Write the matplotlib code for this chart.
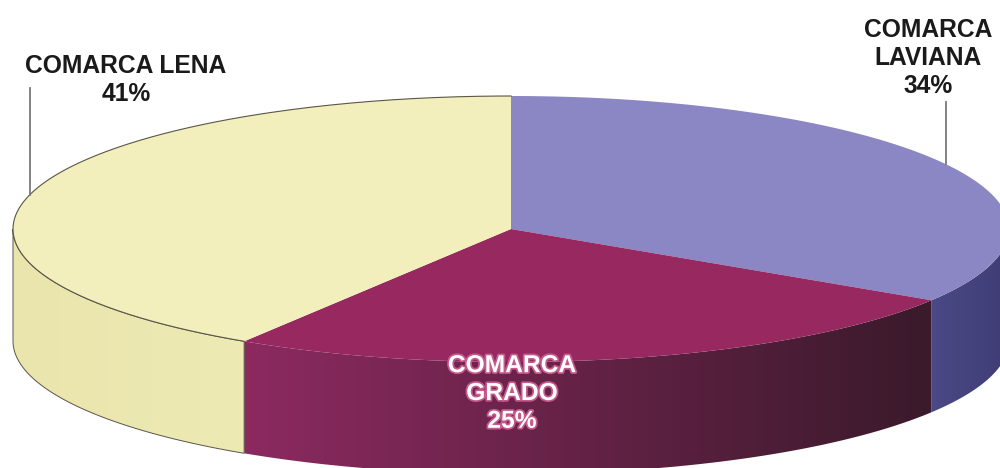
import numpy as np
import matplotlib
matplotlib.use("Agg")
import matplotlib.pyplot as plt
from matplotlib.patches import Polygon
from matplotlib.colors import to_rgb
import matplotlib.patheffects as pe

# Share of each comarca (drawn clockwise from 12 o'clock)
names = ["COMARCA\nLAVIANA", "COMARCA\nGRADO", "COMARCA LENA"]
shares = [34, 25, 41]

top_colors = ["#8B87C4", "#982960", "#F3EFBC"]
side_left_colors = ["#4B4986", "#8C2A60", "#E9E5AC"]
side_right_colors = ["#3F3C74", "#3A1A2B", "#EEEAB4"]

# Geometry of the disc in pixel space
cx, cy = 511, 229
rx, ry = 498, 133
depth = 112

fig = plt.figure(figsize=(10, 4.68), dpi=100)
ax = fig.add_axes([0, 0, 1, 1])
ax.set_xlim(0, 1000)
ax.set_ylim(468, 0)
ax.axis("off")


def rim(theta, dy=0.0):
    t = np.radians(theta)
    return cx + rx * np.cos(t), cy - ry * np.sin(t) + dy


def gradient_fill(poly, c_left, c_right, x0, x1, zorder):
    xs = np.linspace(0, 1, 256)
    cl, cr = np.array(to_rgb(c_left)), np.array(to_rgb(c_right))
    img = (cl[None, :] * (1 - xs[:, None]) + cr[None, :] * xs[:, None])[None, :, :]
    ymin, ymax = poly[:, 1].min(), poly[:, 1].max()
    im = ax.imshow(img, extent=(x0, x1, ymax, ymin), aspect="auto",
                   interpolation="bilinear", zorder=zorder)
    patch = Polygon(poly, closed=True, facecolor="none", edgecolor="none")
    ax.add_patch(patch)
    im.set_clip_path(patch)


bounds = 90 - np.concatenate([[0], np.cumsum(shares)]) * 3.6

# Outer wall (only the front half of the cylinder is visible)
for i, (hi, lo) in enumerate(zip(bounds[:-1], bounds[1:])):
    for shift in (-360, 0, 360):
        a0 = max(lo + shift, -180)
        a1 = min(hi + shift, 0)
        if a1 <= a0:
            continue
        th = np.linspace(a0, a1, 200)
        tx, ty = rim(th)
        bx, by = rim(th[::-1], depth)
        poly = np.column_stack([np.r_[tx, bx], np.r_[ty, by]])
        gradient_fill(poly, side_left_colors[i], side_right_colors[i],
                      poly[:, 0].min(), poly[:, 0].max() + 1, 1)
        ax.add_patch(Polygon(poly, closed=True, facecolor="none",
                             edgecolor="#5a5648" if i == 2 else "none",
                             lw=0.7, zorder=2))

# Top face
for i, (hi, lo) in enumerate(zip(bounds[:-1], bounds[1:])):
    th = np.linspace(hi, lo, 300)
    tx, ty = rim(th)
    poly = np.column_stack([np.r_[cx, tx], np.r_[cy, ty]])
    ax.add_patch(Polygon(poly, closed=True, facecolor=top_colors[i],
                         edgecolor="none", zorder=3))
    if i == 2:
        ax.plot(tx, ty, color="#5a5648", lw=0.8, zorder=4)

# Labels
label_font = dict(family=["Liberation Sans", "DejaVu Sans"], weight="bold",
                  fontsize=17.7, ha="center", va="center", linespacing=1.2)

ax.text(126, 80, f"{names[2]}\n{shares[2]}%", color="#1a1a1a", zorder=6,
        **label_font)
ax.text(928, 58, f"{names[0]}\n{shares[0]}%", color="#1a1a1a", zorder=6,
        **label_font)
ax.text(512, 393, f"{names[1]}\n{shares[1]}%", color="#FFFFFF", zorder=6,
        path_effects=[pe.withStroke(linewidth=2.5, foreground="#C45A8C")],
        **label_font)

# Leader lines
for lx, ly in ((30, 88), (946, 102)):
    ey = cy - ry * np.sqrt(max(0.0, 1 - ((lx - cx) / rx) ** 2))
    ax.plot([lx, lx], [ly, ey], color="#7a7a7a", lw=1.3, zorder=5)

fig.savefig("out.png", dpi=100, facecolor="white")
